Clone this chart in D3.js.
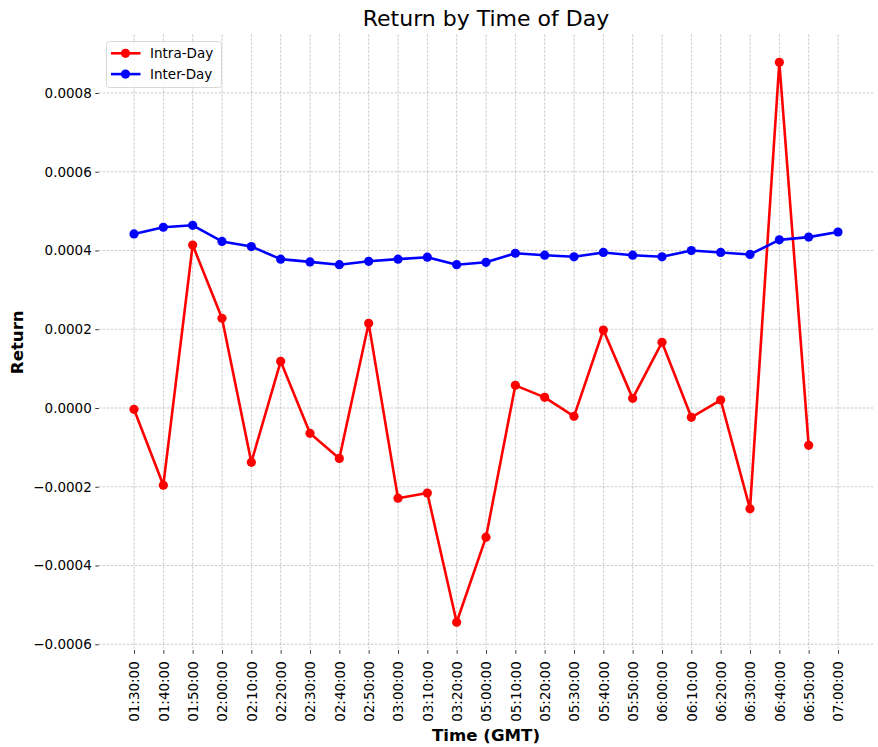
<!DOCTYPE html>
<html>
<head>
<meta charset="utf-8">
<script src="https://cdn.jsdelivr.net/npm/d3@7"></script>
<style>
  html, body { margin: 0; padding: 0; background: #fff; }
  svg { display: block; font-family: "DejaVu Sans", sans-serif; }
</style>
</head>
<body>
<svg id="chart" width="878" height="747"></svg>
<script>
const categories = ["01:30:00","01:40:00","01:50:00","02:00:00","02:10:00","02:20:00","02:30:00","02:40:00","02:50:00","03:00:00","03:10:00","03:20:00","05:00:00","05:10:00","05:20:00","05:30:00","05:40:00","05:50:00","06:00:00","06:10:00","06:20:00","06:30:00","06:40:00","06:50:00","07:00:00"];
const intraDay = [-0.0000033,-0.000196,0.000414,0.000228,-0.000138,0.0001185,-0.0000643,-0.000128,0.000215,-0.000229,-0.000216,-0.000544,-0.000328,0.0000576,0.0000271,-0.0000212,0.000198,0.0000245,0.0001668,-0.0000237,0.0000203,-0.000256,0.000878,-0.0000948,null];
const interDay = [0.000442,0.000459,0.000464,0.000423,0.000410,0.000378,0.000371,0.000364,0.0003725,0.000378,0.000383,0.000364,0.000370,0.000393,0.000388,0.000384,0.000395,0.000388,0.000384,0.000400,0.000395,0.000390,0.000427,0.000434,0.000447];
const yTicks = [-0.0006,-0.0004,-0.0002,0.0000,0.0002,0.0004,0.0006,0.0008];
const seriesNames = ["Intra-Day","Inter-Day"];
const seriesColors = ["#ff0000","#0000ff"];

const svg = d3.select("#chart");
const pLeft = 98.8, pRight = 873.2, pTop = 34.3, pBottom = 650.2;

const x = d3.scaleLinear().domain([-1.2, categories.length - 1 + 1.2]).range([pLeft, pRight]);
const y = d3.scaleLinear().domain([-0.000615, 0.000949]).range([pBottom, pTop]);
const fmt = d3.format(".4f");

// grid
const grid = svg.append("g");
grid.selectAll(".vg").data(categories).join("line")
  .attr("x1", (d,i) => x(i)).attr("x2", (d,i) => x(i))
  .attr("y1", pTop).attr("y2", pBottom)
  .attr("stroke", "#a8a8a8").attr("stroke-width", 0.6).attr("stroke-dasharray", "2.5,1.5");
grid.selectAll(".hg").data(yTicks).join("line")
  .attr("x1", pLeft).attr("x2", pRight)
  .attr("y1", d => y(d)).attr("y2", d => y(d))
  .attr("stroke", "#a8a8a8").attr("stroke-width", 0.6).attr("stroke-dasharray", "2.5,1.5");

// y axis
const yAxis = svg.append("g").attr("transform", `translate(${pLeft},0)`)
  .call(d3.axisLeft(y).tickValues(yTicks).tickFormat(fmt).tickSize(3.5).tickPadding(3.5));
yAxis.select(".domain").remove();
yAxis.selectAll("text").attr("font-size", "13.5px").attr("fill", "#000").attr("font-family", "DejaVu Sans");
yAxis.selectAll("line").attr("stroke", "#000").attr("stroke-width", 0.8);

// x axis
const xAxis = svg.append("g").attr("transform", `translate(0,${pBottom})`)
  .call(d3.axisBottom(x).tickValues(d3.range(categories.length)).tickFormat(i => categories[i]).tickSize(3.5).tickPadding(3.5));
xAxis.select(".domain").remove();
xAxis.selectAll("line").attr("stroke", "#000").attr("stroke-width", 0.8);
xAxis.selectAll("text")
  .attr("font-size", "13.5px").attr("fill", "#000").attr("font-family", "DejaVu Sans")
  .attr("transform", "rotate(-90)")
  .attr("text-anchor", "end")
  .attr("dy", "0.35em")
  .attr("x", -11).attr("y", 0);

// lines
const series = [intraDay, interDay];
series.forEach((vals, s) => {
  const line = d3.line()
    .defined(d => d != null)
    .x((d,i) => x(i)).y(d => y(d));
  svg.append("path").datum(vals)
    .attr("d", line)
    .attr("fill", "none").attr("stroke", seriesColors[s]).attr("stroke-width", 2.6)
    .attr("stroke-linejoin", "round");
  svg.append("g").selectAll("circle")
    .data(vals.map((v,i) => ({v,i})).filter(d => d.v != null))
    .join("circle")
    .attr("cx", d => x(d.i)).attr("cy", d => y(d.v)).attr("r", 4.6)
    .attr("fill", seriesColors[s]);
});

// title & labels
svg.append("text").attr("x", (pLeft+pRight)/2).attr("y", 26)
  .attr("text-anchor", "middle").attr("font-size", "22px").attr("fill", "#000")
  .text("Return by Time of Day");
svg.append("text").attr("x", (pLeft+pRight)/2).attr("y", 741)
  .attr("text-anchor", "middle").attr("font-size", "16.6px").attr("font-weight", "bold").attr("fill", "#000")
  .text("Time (GMT)");
svg.append("text").attr("transform", `translate(23,${(pTop+pBottom)/2}) rotate(-90)`)
  .attr("text-anchor", "middle").attr("font-size", "16.6px").attr("font-weight", "bold").attr("fill", "#000")
  .text("Return");

// legend
const lg = svg.append("g");
lg.append("rect").attr("x", 106.5).attr("y", 41.5).attr("width", 115).attr("height", 46)
  .attr("rx", 3).attr("fill", "#fff").attr("fill-opacity", 0.8).attr("stroke", "#d8d8d8").attr("stroke-width", 1);
seriesNames.forEach((name, s) => {
  const yy = 53.3 + s * 20.8;
  lg.append("line").attr("x1", 111).attr("x2", 140.5).attr("y1", yy).attr("y2", yy)
    .attr("stroke", seriesColors[s]).attr("stroke-width", 2.6);
  lg.append("circle").attr("cx", 125.5).attr("cy", yy).attr("r", 4.6).attr("fill", seriesColors[s]);
  lg.append("text").attr("x", 150).attr("y", yy).attr("dy", "0.35em")
    .attr("font-size", "13.5px").attr("fill", "#000").text(name);
});
</script>
</body>
</html>
